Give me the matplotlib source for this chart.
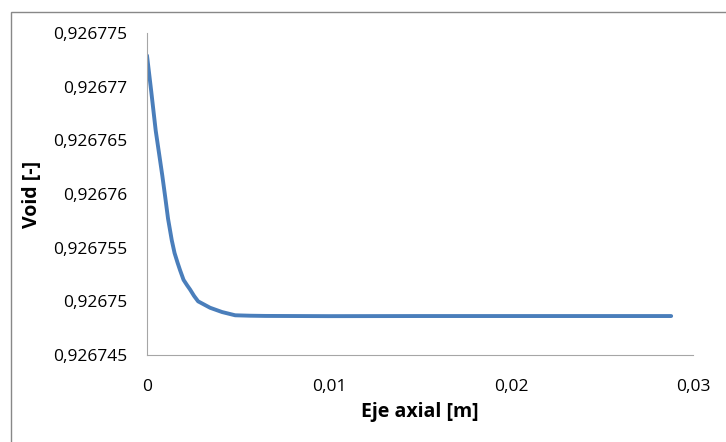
import matplotlib.pyplot as plt
from matplotlib.ticker import FuncFormatter, MultipleLocator
from matplotlib.patches import Rectangle

# values (x in m, void fraction)
eje_axial = [0.0, 0.000237, 0.000479, 0.000661, 0.000842, 0.001002, 0.001156,
             0.00136, 0.001514, 0.001679, 0.001817, 0.002009, 0.002202, 0.002367,
             0.002587, 0.002808, 0.003138, 0.003468, 0.003798, 0.004129, 0.004845,
             0.00567, 0.0065, 0.010, 0.015, 0.020, 0.025, 0.0288]
void = [0.9267729, 0.9267695, 0.9267659, 0.9267638, 0.9267617, 0.9267597,
        0.9267577, 0.9267557, 0.9267545, 0.9267536, 0.9267529, 0.9267520,
        0.9267515, 0.9267511, 0.9267505, 0.9267500, 0.9267497, 0.9267494,
        0.9267492, 0.9267490, 0.9267487, 0.92674866, 0.92674864, 0.92674862,
        0.92674863, 0.92674863, 0.92674863, 0.92674863]


def coma(v, pos):
    s = f"{v:.6f}".rstrip('0').rstrip('.')
    return s.replace('.', ',')


plt.rcParams['font.family'] = ['Open Sans', 'DejaVu Sans']

fig = plt.figure(figsize=(7.26, 4.42), dpi=100)
fig.patches.append(Rectangle((11 / 726, -0.1), 1.2, 1.1 - 12 / 442,
                             transform=fig.transFigure, fill=False,
                             edgecolor='#888888', linewidth=1.0))
ax = fig.add_axes([147 / 726, 1 - 355 / 442, (693 - 147) / 726, (355 - 33) / 442])

ax.plot(eje_axial, void, color='#4a7ebb', linewidth=2.8,
        solid_capstyle='round', solid_joinstyle='round')

ax.set_xlim(0, 0.03)
ax.set_ylim(0.926745, 0.926775)
ax.xaxis.set_major_locator(MultipleLocator(0.01))
ax.yaxis.set_major_locator(MultipleLocator(0.000005))
ax.xaxis.set_major_formatter(FuncFormatter(coma))
ax.yaxis.set_major_formatter(FuncFormatter(coma))
ax.tick_params(length=0, labelsize=12.5)
ax.tick_params(axis='x', pad=17)
ax.tick_params(axis='y', pad=14)

for s in ['top', 'right']:
    ax.spines[s].set_visible(False)
for s in ['left', 'bottom']:
    ax.spines[s].set_color('#a6a6a6')

ax.set_xlabel('Eje axial [m]', fontsize=14, fontweight='bold', labelpad=5)
ax.set_ylabel('Void [-]', fontsize=14, fontweight='bold', labelpad=8)

fig.savefig('out.png', dpi=100)
